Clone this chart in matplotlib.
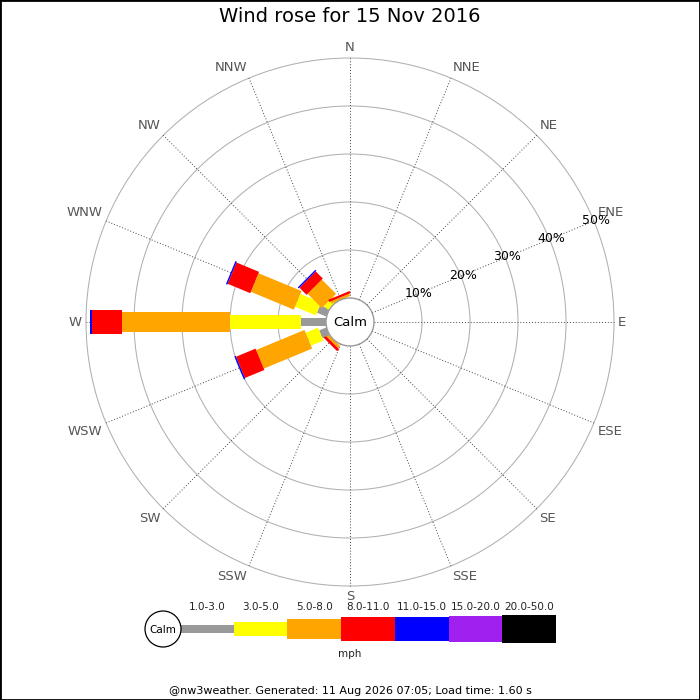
import matplotlib
matplotlib.use('Agg')
import matplotlib.pyplot as plt
from matplotlib.patches import Polygon, Circle, Rectangle
import numpy as np

# 16 compass directions, clockwise from north
directions = ['N', 'NNE', 'NE', 'ENE', 'E', 'ESE', 'SE', 'SSE',
              'S', 'SSW', 'SW', 'WSW', 'W', 'WNW', 'NW', 'NNW']

# speed bins (mph), colours and bar widths (% units)
speed_labels = ['1.0-3.0', '3.0-5.0', '5.0-8.0', '8.0-11.0', '11.0-15.0', '15.0-20.0', '20.0-50.0']
speed_colors = ['#999999', '#ffff00', '#ffa500', '#ff0000', '#0000ff', '#a020f0', '#000000']
bar_widths = [1.7, 2.9, 4.2, 4.8, 5.2, 5.6, 5.8]

# percentage of time per direction for each speed bin
s_1_3 = [0, 0, 0, 0, 0, 0, 0, 0, 0, 0, 0, 1.6, 5.2, 2.1, 0, 0]
s_3_5 = [0, 0, 0, 0, 0, 0, 0, 0, 0, 0, 0, 2.8, 14.7, 4.7, 1.2, 0]
s_5_8 = [0, 0, 0, 0, 0, 0, 0, 0, 0, 0, 0.6, 10.9, 22.5, 9.7, 4.2, 0.5]
s_8_11 = [0, 0, 0, 0, 0, 0, 0, 0, 0, 0, 0.6, 4.4, 6.3, 5.1, 2.1, 0.5]
s_11_15 = [0, 0, 0, 0, 0, 0, 0, 0, 0, 0, 0, 0.3, 0.5, 0.3, 0.3, 0]
s_15_20 = [0] * 16
s_20_50 = [0] * 16
bins = [s_1_3, s_3_5, s_5_8, s_8_11, s_11_15, s_15_20, s_20_50]

ring_pcts = [10, 20, 30, 40, 50]
calm_r = 5.0          # radius of the calm circle, in % units
px = 4.8              # pixels per % unit

fig = plt.figure(figsize=(7, 7), dpi=100)
ax = fig.add_axes([0, 0, 1, 1])
ax.set_xlim(-350 / px, 350 / px)
ax.set_ylim(-378 / px, 322 / px)
ax.set_aspect('equal')
ax.axis('off')

angles = np.deg2rad(np.arange(16) * 22.5)

# rings
for p in ring_pcts:
    ax.add_patch(Circle((0, 0), calm_r + p, fill=False, ec='#b0b0b0', lw=0.75, zorder=1))

# spokes
r_out = calm_r + ring_pcts[-1]
for a in angles:
    ax.plot([calm_r * np.sin(a), r_out * np.sin(a)], [calm_r * np.cos(a), r_out * np.cos(a)],
            color='#444444', lw=0.7, linestyle=(0, (1, 2)), zorder=1)

# direction labels
r_lab = r_out + 4 / px
for a, d in zip(angles, directions):
    s, c = np.sin(a), np.cos(a)
    ha = 'center' if abs(s) < 0.1 else ('left' if s > 0 else 'right')
    va = 'center' if abs(c) < 0.1 else ('bottom' if c > 0 else 'top')
    ax.text(r_lab * s, r_lab * c, d, ha=ha, va=va, fontsize=9.5, color='#555555')

# stacked bars (rectangles of constant width)
for i, a in enumerate(angles):
    u = np.array([np.sin(a), np.cos(a)])
    p = np.array([np.cos(a), -np.sin(a)])
    r0 = calm_r
    for vals, col, w in zip(bins, speed_colors, bar_widths):
        v = vals[i]
        if v <= 0:
            continue
        r1 = r0 + v
        pts = [r0 * u + w / 2 * p, r1 * u + w / 2 * p, r1 * u - w / 2 * p, r0 * u - w / 2 * p]
        ax.add_patch(Polygon(pts, closed=True, fc=col, ec='none', zorder=3))
        r0 = r1

# calm circle
ax.add_patch(Circle((0, 0), calm_r, fc='white', ec='#999999', lw=1, zorder=4))
ax.text(0, 0, 'Calm', ha='center', va='center', fontsize=9.5, zorder=5)

# radial labels along the ENE spoke
lab_a = np.deg2rad(67.5)
for p in ring_pcts:
    r = calm_r + p + 0.4
    ax.text(r * np.sin(lab_a), r * np.cos(lab_a), '%d%%' % p, ha='center', va='center',
            fontsize=9, color='black', zorder=5)

# legend, in pixel coordinates
lax = fig.add_axes([0, 0, 1, 1])
lax.set_xlim(0, 700)
lax.set_ylim(700, 0)
lax.axis('off')
seg_w = 53.7
x0 = 180
centers = x0 + seg_w / 2 + np.arange(len(speed_labels)) * seg_w
heights = [w * px for w in bar_widths]
lax.bar(centers, heights, width=seg_w, bottom=[629 - h / 2 for h in heights],
        color=speed_colors, linewidth=0)
for cx, lab in zip(centers, speed_labels):
    lax.text(cx, 607, lab, ha='center', va='center', fontsize=7.5, color='#222222')
lax.add_patch(Circle((163, 629), 18, fc='white', ec='black', lw=0.9, zorder=4))
lax.text(163, 630, 'Calm', ha='center', va='center', fontsize=7.5, zorder=5)
lax.text(350, 654, 'mph', ha='center', va='center', fontsize=7.5, color='#222222')

fig.text(0.5, 1 - 17 / 700, 'Wind rose for 15 Nov 2016', ha='center', va='center', fontsize=14)
fig.text(0.5, 1 - 691 / 700, '@nw3weather. Generated: 11 Aug 2026 07:05; Load time: 1.60 s',
         ha='center', va='center', fontsize=8)

fig.patches.append(Rectangle((0, 0), 1, 1, transform=fig.transFigure, fill=False,
                             ec='black', lw=2, zorder=10))

fig.savefig('out.png', dpi=100)
